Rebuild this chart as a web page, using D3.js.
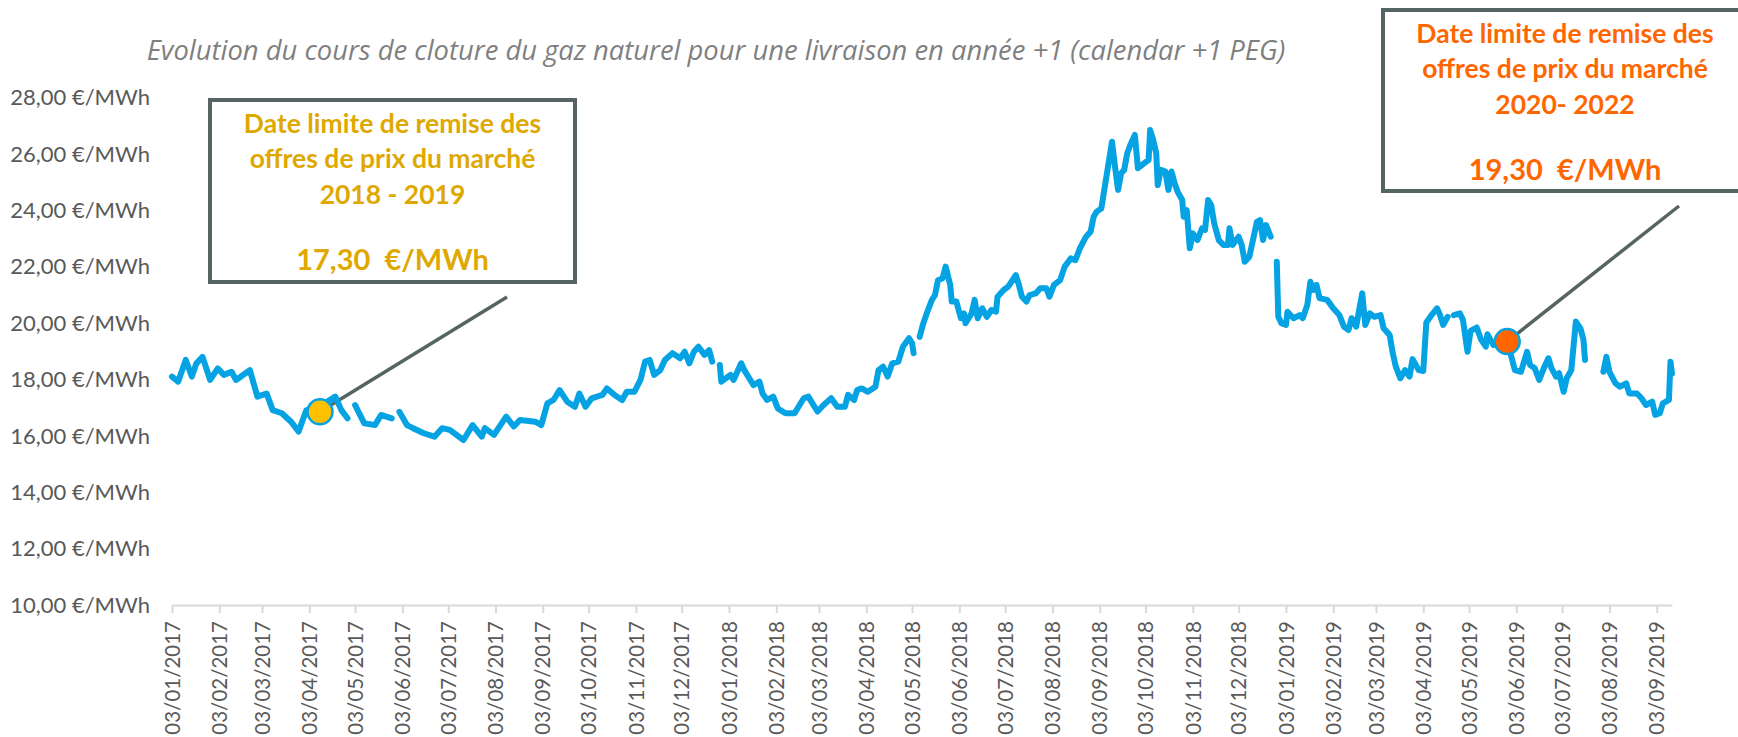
<!DOCTYPE html>
<html>
<head>
<meta charset="utf-8">
<script src="https://cdn.jsdelivr.net/npm/d3@7"></script>
<style>
  body { margin: 0; background: #fff; }
  svg { display: block; }
</style>
</head>
<body>
<div id="chart"></div>
<script>
// closing prices, calendar +1 PEG (gaps = null)
var dates = [
  "2017-01-03","2017-01-07","2017-01-12","2017-01-16","2017-01-19","2017-01-23","2017-01-28","2017-02-02","2017-02-06","2017-02-11",
  "2017-02-14","2017-02-23","2017-02-28","2017-03-06","2017-03-10","2017-03-16","2017-03-22","2017-03-27","2017-04-01","2017-04-05",
  "2017-04-13","2017-04-20","2017-04-24","2017-04-28","2017-04-30","2017-05-03","2017-05-09","2017-05-16","2017-05-20","2017-05-27",
  "2017-05-29","2017-06-01","2017-06-06","2017-06-10","2017-06-17","2017-06-24","2017-06-29","2017-07-04","2017-07-13","2017-07-19",
  "2017-07-25","2017-07-27","2017-08-02","2017-08-10","2017-08-15","2017-08-19","2017-08-29","2017-09-02","2017-09-06","2017-09-10",
  "2017-09-14","2017-09-19","2017-09-24","2017-09-27","2017-10-01","2017-10-05","2017-10-12","2017-10-15","2017-10-20","2017-10-25",
  "2017-10-28","2017-11-02","2017-11-06","2017-11-09","2017-11-12","2017-11-15","2017-11-19","2017-11-22","2017-11-27","2017-12-02",
  "2017-12-05","2017-12-08","2017-12-11","2017-12-14","2017-12-18","2017-12-21","2017-12-23","2017-12-26","2017-12-28","2017-12-29",
  "2018-01-04","2018-01-06","2018-01-11","2018-01-13","2018-01-19","2018-01-23","2018-01-25","2018-01-28","2018-02-01","2018-02-04",
  "2018-02-09","2018-02-15","2018-02-21","2018-02-24","2018-03-02","2018-03-06","2018-03-11","2018-03-15","2018-03-20","2018-03-22",
  "2018-03-26","2018-03-28","2018-03-31","2018-04-04","2018-04-09","2018-04-11","2018-04-14","2018-04-17","2018-04-20","2018-04-24",
  "2018-04-27","2018-05-01","2018-05-03","2018-05-04","2018-05-06","2018-05-08","2018-05-10","2018-05-13","2018-05-16","2018-05-18",
  "2018-05-20","2018-05-23","2018-05-25","2018-05-28","2018-05-29","2018-06-01","2018-06-04","2018-06-06","2018-06-07","2018-06-11",
  "2018-06-13","2018-06-15","2018-06-18","2018-06-21","2018-06-24","2018-06-27","2018-06-28","2018-07-02","2018-07-05","2018-07-10",
  "2018-07-12","2018-07-14","2018-07-17","2018-07-19","2018-07-23","2018-07-26","2018-07-30","2018-08-01","2018-08-04","2018-08-08",
  "2018-08-11","2018-08-15","2018-08-18","2018-08-21","2018-08-25","2018-08-28","2018-08-30","2018-09-01","2018-09-04","2018-09-07",
  "2018-09-11","2018-09-13","2018-09-15","2018-09-17","2018-09-19","2018-09-21","2018-09-23","2018-09-26","2018-09-28","2018-10-02",
  "2018-10-05","2018-10-06","2018-10-08","2018-10-10","2018-10-11","2018-10-13","2018-10-16","2018-10-18","2018-10-20","2018-10-22",
  "2018-10-24","2018-10-27","2018-10-28","2018-10-30","2018-11-01","2018-11-03","2018-11-06","2018-11-09","2018-11-11","2018-11-13",
  "2018-11-15","2018-11-17","2018-11-20","2018-11-23","2018-11-26","2018-11-27","2018-11-29","2018-12-03","2018-12-05","2018-12-07",
  "2018-12-10","2018-12-15","2018-12-17","2018-12-19","2018-12-21","2018-12-24","2018-12-26","2018-12-28","2018-12-29","2018-12-31",
  "2019-01-03","2019-01-04","2019-01-08","2019-01-12","2019-01-14","2019-01-17","2019-01-19","2019-01-21","2019-01-23","2019-01-25",
  "2019-01-30","2019-02-03","2019-02-07","2019-02-10","2019-02-13","2019-02-15","2019-02-18","2019-02-22","2019-02-24","2019-02-27",
  "2019-03-02","2019-03-06","2019-03-08","2019-03-12","2019-03-14","2019-03-16","2019-03-19","2019-03-22","2019-03-25","2019-03-27",
  "2019-03-31","2019-04-03","2019-04-05","2019-04-08","2019-04-12","2019-04-14","2019-04-16","2019-04-19","2019-04-21","2019-04-23",
  "2019-04-27","2019-04-29","2019-05-02","2019-05-04","2019-05-08","2019-05-11","2019-05-14","2019-05-15","2019-05-19","2019-05-23",
  "2019-05-28","2019-05-31","2019-06-02","2019-06-06","2019-06-10","2019-06-12","2019-06-15","2019-06-18","2019-06-21","2019-06-24",
  "2019-06-26","2019-06-29","2019-07-01","2019-07-04","2019-07-06","2019-07-09","2019-07-12","2019-07-15","2019-07-17","2019-07-18",
  "2019-07-22","2019-07-30","2019-08-01","2019-08-03","2019-08-07","2019-08-10","2019-08-14","2019-08-16","2019-08-21","2019-08-24",
  "2019-08-27","2019-08-31","2019-09-02","2019-09-05","2019-09-07","2019-09-11","2019-09-12","2019-09-13"
];
var prices = [
  18.10,17.92,18.69,18.10,18.57,18.80,17.98,18.39,18.16,18.27,
  17.98,18.33,17.39,17.50,16.91,16.80,16.50,16.15,16.91,16.95,
  17.15,17.39,16.91,16.62,null,17.09,16.44,16.38,16.74,16.62,
  null,16.85,16.38,16.27,16.09,15.97,16.27,16.21,15.85,16.38,
  15.97,16.27,16.03,16.68,16.33,16.56,16.50,16.38,17.15,17.27,
  17.62,17.21,17.03,17.50,17.03,17.33,17.45,17.68,17.45,17.27,
  17.56,17.56,17.98,18.63,18.69,18.16,18.33,18.69,18.93,18.75,
  18.98,18.57,18.98,19.16,18.87,19.04,18.63,null,18.51,17.92,
  18.16,17.98,18.57,18.33,17.80,17.92,17.50,17.27,17.39,16.97,
  16.80,16.80,17.33,17.39,16.86,17.09,17.33,17.03,17.03,17.45,
  17.27,17.62,17.68,17.56,17.74,18.33,18.45,18.10,18.57,18.63,
  19.16,19.46,19.28,18.93,null,19.51,19.93,20.40,20.82,20.99,
  21.52,21.59,22.00,21.35,20.76,20.76,20.17,20.34,19.99,20.34,
  20.82,20.17,20.52,20.22,20.46,20.40,20.93,21.17,21.29,21.70,
  21.35,20.93,20.76,20.99,21.05,21.23,21.23,20.93,21.35,21.52,
  22.00,22.29,22.23,22.65,23.06,23.24,23.77,23.95,24.06,25.07,
  26.43,25.54,24.72,25.31,25.43,26.02,26.31,26.67,25.49,25.66,
  25.78,26.84,26.49,26.02,24.89,25.43,25.37,24.72,25.37,24.96,
  24.66,24.36,23.77,24.00,22.65,23.18,22.94,23.36,23.30,24.36,
  24.18,23.53,22.94,22.77,22.77,23.36,22.77,23.06,22.77,22.17,
  22.35,23.59,23.65,22.94,23.47,23.06,null,22.17,20.22,19.99,
  19.93,20.40,20.17,20.28,20.17,20.64,21.46,21.17,21.35,20.88,
  20.82,20.52,20.28,19.87,19.75,20.17,19.87,21.05,19.93,20.34,
  20.22,20.28,19.81,19.57,18.93,18.45,18.04,18.33,18.10,18.72,
  18.33,18.30,20.02,20.25,20.52,20.28,19.93,20.22,null,20.28,
  20.34,20.11,18.98,19.72,19.84,19.40,19.16,19.60,19.22,19.40,
  19.34,18.75,18.33,18.27,18.98,18.51,18.40,17.98,18.40,18.75,
  18.40,18.10,18.22,17.56,18.04,18.33,20.05,19.81,19.40,18.69,
  null,18.27,18.80,18.27,17.86,17.74,17.86,17.50,17.50,17.33,
  17.09,17.21,16.74,16.80,17.15,17.27,18.63,18.20
];

// monthly ticks and y ticks
var xTickLabels = [
  "03/01/2017","03/02/2017","03/03/2017","03/04/2017","03/05/2017","03/06/2017","03/07/2017","03/08/2017","03/09/2017",
  "03/10/2017","03/11/2017","03/12/2017","03/01/2018","03/02/2018","03/03/2018","03/04/2018","03/05/2018","03/06/2018",
  "03/07/2018","03/08/2018","03/09/2018","03/10/2018","03/11/2018","03/12/2018","03/01/2019","03/02/2019","03/03/2019",
  "03/04/2019","03/05/2019","03/06/2019","03/07/2019","03/08/2019","03/09/2019"
];
var yTicks = [10, 12, 14, 16, 18, 20, 22, 24, 26, 28];

// the two deadlines
var markerDates = ["2017-04-10", "2019-05-28"];
var markerValues = [16.85, 19.34];
var markerColors = ["#FFC000", "#FF6600"];
var boxLines = [
  ["Date limite de remise des", "offres de prix du marché", "2018 - 2019", "17,30\u00a0 €/MWh"],
  ["Date limite de remise des", "offres de prix du marché", "2020- 2022", "19,30\u00a0 €/MWh"]
];

var width = 1738, height = 737;
var parse = d3.timeParse("%Y-%m-%d");
var parseTick = d3.timeParse("%d/%m/%Y");

var data = dates.map(function (d, i) { return { date: parse(d), value: prices[i] }; });

var svg = d3.select("#chart")
    .append("svg")
    .attr("width", width)
    .attr("height", height);

var x = d3.scaleTime()
    .domain([parse("2017-01-03"), parse("2019-09-13")])
    .range([172, 1672]);

var y = d3.scaleLinear()
    .domain([10, 28])
    .range([605, 97.4]);

// title
var title = svg.append("text")
    .attr("x", 716)
    .attr("y", 60)
    .attr("text-anchor", "middle")
    .attr("font-family", "'Open Sans', sans-serif")
    .attr("font-style", "italic")
    .attr("font-size", 22)
    .attr("fill", "#7F7F7F")
    .text("Evolution du cours de cloture du gaz naturel pour une livraison en année +1 (calendar +1 PEG)");
var tw = title.node().getComputedTextLength();
title.attr("font-size", 22 * 1139 / tw);

// y axis labels (no axis line)
svg.append("g")
    .selectAll("text")
    .data(yTicks)
    .enter()
    .append("text")
    .attr("x", 150)
    .attr("y", function (d) { return y(d); })
    .attr("dy", "0.35em")
    .attr("text-anchor", "end")
    .attr("font-family", "Lato, sans-serif")
    .attr("font-size", 22)
    .attr("fill", "#595959")
    .text(function (d) { return d.toFixed(2).replace(".", ",") + " €/MWh"; });

// x axis
var xAxis = svg.append("g")
    .attr("transform", "translate(0," + y(10) + ")")
    .call(d3.axisBottom(x)
        .tickValues(xTickLabels.map(parseTick))
        .tickSize(8)
        .tickSizeOuter(0)
        .tickFormat(d3.timeFormat("%d/%m/%Y")));

xAxis.select(".domain").attr("stroke", "#D9D9D9").attr("stroke-width", 2);
xAxis.selectAll(".tick line").attr("stroke", "#D9D9D9").attr("stroke-width", 2);
xAxis.selectAll(".tick text")
    .attr("font-family", "Lato, sans-serif")
    .attr("font-size", 20.5)
    .attr("fill", "#595959")
    .attr("text-anchor", "end")
    .attr("transform", "rotate(-90)")
    .attr("x", -16)
    .attr("y", 0)
    .attr("dy", "0.35em");

// connectors from markers to boxes
var boxAnchors = [[507, 297], [1679, 206]];
svg.selectAll(".connector")
    .data(markerDates)
    .enter()
    .append("line")
    .attr("x1", function (d) { return x(parse(d)); })
    .attr("y1", function (d, i) { return y(markerValues[i]); })
    .attr("x2", function (d, i) { return boxAnchors[i][0]; })
    .attr("y2", function (d, i) { return boxAnchors[i][1]; })
    .attr("stroke", "#566464")
    .attr("stroke-width", 3.5);

// price line
var line = d3.line()
    .defined(function (d) { return d.value != null; })
    .x(function (d) { return x(d.date); })
    .y(function (d) { return y(d.value); });

svg.append("path")
    .datum(data)
    .attr("d", line)
    .attr("fill", "none")
    .attr("stroke", "#05A3E3")
    .attr("stroke-width", 6)
    .attr("stroke-linejoin", "round")
    .attr("stroke-linecap", "round");

// markers
svg.selectAll(".marker")
    .data(markerDates)
    .enter()
    .append("circle")
    .attr("cx", function (d) { return x(parse(d)); })
    .attr("cy", function (d, i) { return y(markerValues[i]); })
    .attr("r", 12.5)
    .attr("fill", function (d, i) { return markerColors[i]; })
    .attr("stroke", "#05A3E3")
    .attr("stroke-width", 2.5);

// annotation boxes
var boxes = [
  { x: 210, y: 100, w: 365, h: 182 },
  { x: 1383, y: 10, w: 364, h: 181 }
];
var lineOffsets = [23, 58, 94, 160];

boxes.forEach(function (b, i) {
    var g = svg.append("g");
    g.append("rect")
        .attr("x", b.x)
        .attr("y", b.y)
        .attr("width", b.w)
        .attr("height", b.h)
        .attr("fill", "#fff")
        .attr("stroke", "#566464")
        .attr("stroke-width", 4);
    g.selectAll("text")
        .data(boxLines[i])
        .enter()
        .append("text")
        .attr("x", b.x + b.w / 2)
        .attr("y", function (d, j) { return b.y + lineOffsets[j]; })
        .attr("dy", "0.36em")
        .attr("text-anchor", "middle")
        .attr("font-family", "Lato, sans-serif")
        .attr("font-weight", "bold")
        .attr("font-size", function (d, j) { return j == 3 ? 29 : 26.5; })
        .attr("fill", markerColors[i] == "#FFC000" ? "#DFA800" : "#FF6600")
        .text(function (d) { return d; });
});
</script>
</body>
</html>
